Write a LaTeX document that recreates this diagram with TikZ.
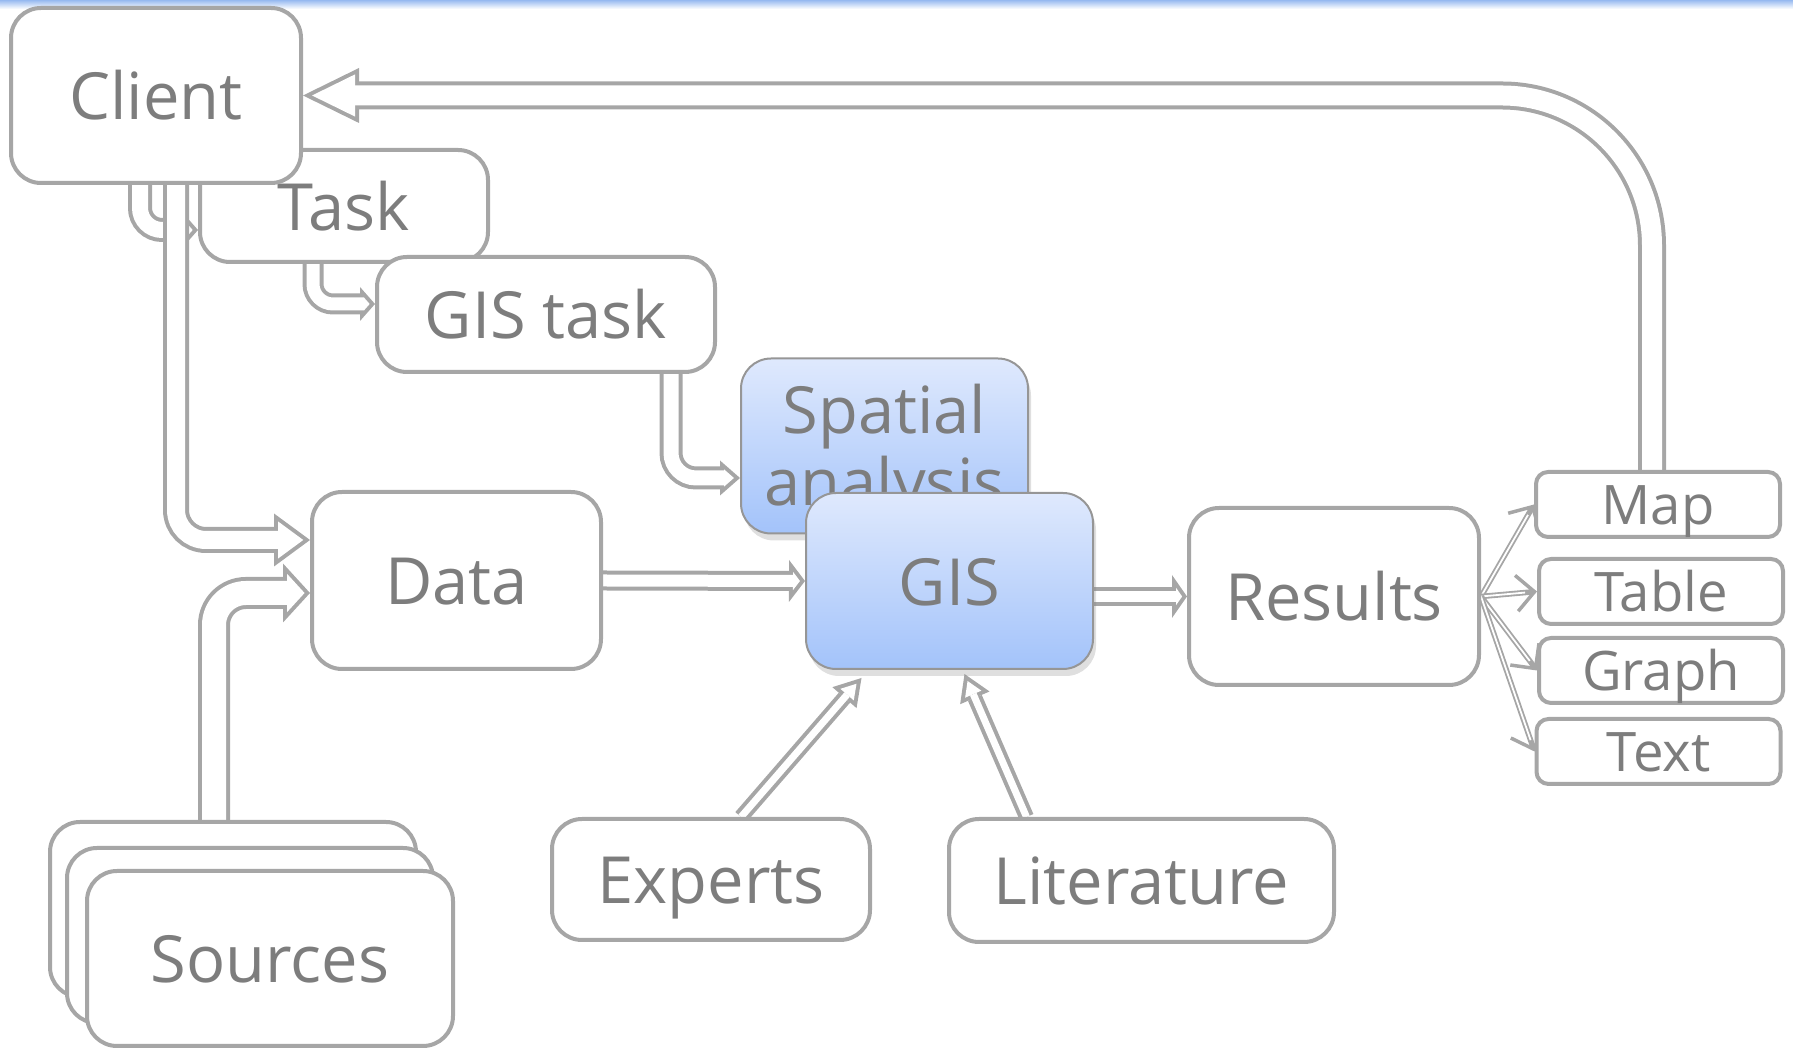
\documentclass[tikz,border=0pt]{standalone}
\usepackage{fontspec}
\setmainfont{Open Sans}
\usepackage{tikz}
\usetikzlibrary{arrows.meta,positioning,shadows,backgrounds,calc}
\definecolor{linegray}{RGB}{166,166,166}
\definecolor{textgray}{RGB}{125,125,125}
\definecolor{gistop}{RGB}{223,233,253}
\definecolor{gisbot}{RGB}{163,195,250}
\definecolor{bordergray}{RGB}{150,150,150}
\definecolor{topblue}{RGB}{150,185,240}
\newcommand{\pipeborder}{0.4}

\begin{document}
\begin{tikzpicture}[x=0.1mm, y=-0.1mm,
  box/.style={draw=linegray, line width=0.4mm, fill=white, rounded corners=3mm, inner sep=0pt,
    text=textgray, font=\fontsize{18.5}{20.5}\selectfont, text height=13.8pt, text depth=0pt},
  small/.style={box, rounded corners=1.2mm, minimum width=24.4mm, minimum height=6.5mm,
    font=\fontsize{15.5}{17}\selectfont, text height=11.6pt},
  bluebox/.style={box, draw=bordergray, line width=0.2mm, top color=gistop, bottom color=gisbot,
    drop shadow={shadow xshift=0.3mm, shadow yshift=-0.7mm, opacity=0.25}},
  pipe/.style args={#1/#2/#3}{
    /utils/exec={%
      \pgfmathsetmacro\pipein{#1-2*\pipeborder}%
      \pgfmathsetmacro\pipecut{\pipeborder/sin(atan(#2/(2*#3)))}%
      \pgfmathsetmacro\pipelen{#3-\pipeborder-\pipecut}%
      \pgfmathsetmacro\pipewid{#2*\pipelen/#3}},
    preaction={draw=linegray, line width=#1mm, shorten >=0pt,
      -{Triangle[length=#3mm, width=#2mm, line width=0pt, fill=linegray]}},
    draw=white, line width=\pipein mm, shorten >=\pipecut mm,
    -{Triangle[length=\pipelen mm, width=\pipewid mm, line width=0pt, fill=white]}},
  fan/.style={preaction={draw=linegray, line width=0.55mm, shorten >=0pt,
      -{Straight Barb[length=1.8mm, width=3.6mm, line width=0.35mm]}},
    draw=white, line width=0.18mm, shorten >=1.2mm}]
\useasboundingbox (0,0) rectangle (1793,1048);
\shade[top color=topblue, bottom color=white] (0,0) rectangle (1793,9);

% boxes
\node[box, minimum width=28.8mm, minimum height=11.2mm] (task) at (344,206) {Task};
\node[box, minimum width=29mm, minimum height=17.5mm] (client) at (156,95.5) {Client};
\node[box, minimum width=33.8mm, minimum height=11.5mm] (gistask) at (546,314.5) {GIS task};
\node[bluebox, minimum width=28.7mm, minimum height=17.5mm, align=center, text height=, text depth=]
  (spatial) at (884.5,446) {\rule{0pt}{6.2mm}Spatial\\analysis};
\node[bluebox, minimum width=28.7mm, minimum height=17.6mm] (gis) at (949.5,581) {GIS};
\node[box, minimum width=28.9mm, minimum height=17.7mm] (data) at (456.5,580.5) {Data};
\node[box, minimum width=29mm, minimum height=17.7mm] (results) at (1334,596.5) {Results};
\node[small] (map) at (1658,504.5) {Map};
\node[small] (table) at (1661,591.5) {Table};
\node[small] (graph) at (1661,670.5) {Graph};
\node[small] (text) at (1658.5,751.5) {Text};
\node[box, minimum width=31.8mm, minimum height=12.1mm] (experts) at (711,879.5) {Experts};
\node[box, minimum width=38.5mm, minimum height=12.3mm] (literature) at (1141.5,880.5) {Literature};
\node[box, minimum width=36.6mm, minimum height=17.5mm] (srcback) at (233,909.5) {};
\node[box, minimum width=36.6mm, minimum height=17.5mm] (srcmid) at (250,935.5) {};
\node[box, minimum width=36.6mm, minimum height=17.5mm] (sources) at (270,958.5) {Sources};

% connectors
\begin{scope}[on background layer]
\draw[pipe=2.8/5.5/5.6, rounded corners=15mm] ([xshift=-0.6mm]map.north) |- (client.east);
\draw[pipe=2.4/3.4/1.5, rounded corners=2.2mm] (140,0 |- client.south) |- (task.west |- 0,230);
\draw[pipe=2.6/5.3/3.6, rounded corners=3mm] (176,0 |- client.south) |- (data.west |- 0,540);
\draw[pipe=3.2/5.9/2.7, rounded corners=3.2mm] (214,0 |- srcback.north) |- (data.west |- 0,593);
\draw[pipe=2.1/3.4/1.5, rounded corners=2mm] (313,0 |- task.south) |- (gistask.west |- 0,304);
\draw[pipe=2.3/3.5/2.0, rounded corners=2.5mm] (671,0 |- gistask.south) |- (spatial.west |- 0,478);
\draw[pipe=2.0/4.2/1.6] (data.east) -- (gis.west);
\draw[pipe=1.9/4.3/1.5] (gis.east |- results.west) -- (results.west);
\draw[pipe=1.5/3.2/2.6] ([xshift=3mm]experts.north) -- ([xshift=-8.8mm,yshift=-0.8mm]gis.south);
\draw[pipe=1.5/3.2/2.6] ([xshift=-11.5mm]literature.north) -- ([xshift=1.5mm,yshift=-0.4mm]gis.south);
\foreach \out in {map,table,graph,text}
  \draw[fan] (results.east) -- (\out.west);
\end{scope}
\end{tikzpicture}
\end{document}
